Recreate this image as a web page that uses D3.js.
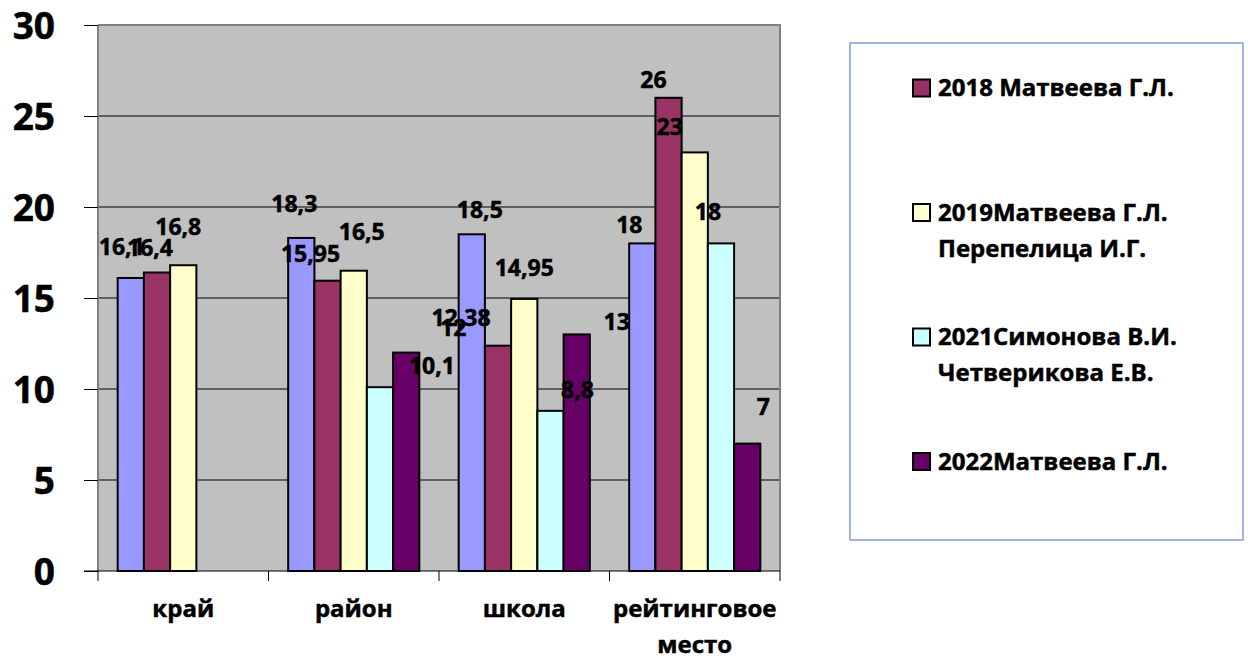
<!DOCTYPE html>
<html>
<head>
<meta charset="utf-8">
<script src="https://cdn.jsdelivr.net/npm/d3@7"></script>
<style>
  body { margin: 0; background: #fff; }
  svg text { font-family: "Open Sans", "DejaVu Sans", sans-serif; font-weight: bold; fill: #000; stroke: #000; stroke-width: 0.5px; }
</style>
</head>
<body>
<div id="chart"></div>
<script>
// data
const categories = ["край", "район", "школа", "рейтинговое место"];
const seriesKeys = ["s0", "s2018", "s2019", "s2021", "s2022"];
const seriesLabels = ["", "2018 Матвеева Г.Л.", "2019Матвеева Г.Л. Перепелица И.Г.", "2021Симонова В.И. Четверикова Е.В.", "2022Матвеева Г.Л."];
const values0 = [16.1, 18.3, 18.5, 18];
const values2018 = [16.4, 15.95, 12.38, 26];
const values2019 = [16.8, 16.5, 14.95, 23];
const values2021 = [null, 10.1, 8.8, 18];
const values2022 = [null, 12, 13, 7];
const yTicks = [0, 5, 10, 15, 20, 25, 30];

// legend text lines (the first series has no legend entry)
const legendLines = [
  null,
  ["2018 Матвеева Г.Л."],
  ["2019Матвеева Г.Л.", "Перепелица И.Г."],
  ["2021Симонова В.И.", "Четверикова Е.В."],
  ["2022Матвеева Г.Л."]
];

const colors = ["#9999FF", "#993366", "#FFFFCC", "#CCFFFF", "#660066"];

// label nudges relative to bar centre / bar top (Excel put them a bit everywhere)
const labelNudge = [
  [[-9, -31], [-7, -34], [8, -24], [-13, -18]],
  [[-7, -25], [-17, -27], [-37, -28], [-15, -18]],
  [[-5, -38], [8, -39], [0, -31], [-25, -25]],
  [null, [52, -21], [27, -21], [-13, -31]],
  [null, [47, -25], [40, -12], [16, -37]]
];

const allValues = [values0, values2018, values2019, values2021, values2022];

const margin = { top: 25, right: 468, bottom: 88, left: 98 };
const width = 1248 - margin.left - margin.right;
const height = 659 - margin.top - margin.bottom;

const svg = d3.select("#chart")
  .append("svg")
  .attr("width", 1248)
  .attr("height", 659);

const g = svg.append("g")
  .attr("transform", `translate(${margin.left},${margin.top})`);

const x = d3.scaleBand()
  .domain(categories)
  .range([0, width])
  .paddingInner(0)
  .paddingOuter(0);

const xs = d3.scaleBand()
  .domain(seriesKeys)
  .range([0, x.bandwidth()])
  .paddingInner(0)
  .paddingOuter(0.75);

const y = d3.scaleLinear()
  .domain([0, 30])
  .range([height, 0]);

// plot background
g.append("rect")
  .attr("width", width)
  .attr("height", height)
  .attr("fill", "#C0C0C0");

// grid lines
g.selectAll(".grid")
  .data(yTicks.filter(d => d > 0 && d < 30))
  .enter()
  .append("line")
  .attr("x1", 0)
  .attr("x2", width)
  .attr("y1", d => y(d))
  .attr("y2", d => y(d))
  .attr("stroke", "#000")
  .attr("stroke-width", 1);

// top and right frame
g.append("path")
  .attr("d", `M0,${y(30)}H${width}V${height}`)
  .attr("fill", "none")
  .attr("stroke", "#808080")
  .attr("stroke-width", 2);

// bars
const rows = [];
allValues.forEach((vals, si) => {
  vals.forEach((v, ci) => {
    if (v == null) return;
    rows.push({ si, ci, v, key: seriesKeys[si], cat: categories[ci] });
  });
});

g.selectAll(".bar")
  .data(rows)
  .enter()
  .append("rect")
  .attr("x", d => x(d.cat) + xs(d.key))
  .attr("y", d => y(d.v))
  .attr("width", xs.bandwidth())
  .attr("height", d => y(0) - y(d.v))
  .attr("fill", d => colors[d.si])
  .attr("stroke", "#000")
  .attr("stroke-width", 2);

// y axis
const yAxis = g.append("g")
  .call(d3.axisLeft(y).tickValues(yTicks).tickSize(14).tickPadding(29));
yAxis.select(".domain").attr("stroke", "#808080").attr("stroke-width", 2)
  .attr("d", `M0,${height}V0`);
yAxis.selectAll(".tick line").attr("stroke", "#000");
yAxis.selectAll(".tick text")
  .style("font-size", "37px")
  .attr("dy", "0.37em");

// bottom axis line and ticks at band edges
g.append("line")
  .attr("x1", -14)
  .attr("x2", width)
  .attr("y1", height)
  .attr("y2", height)
  .attr("stroke", "#000")
  .attr("stroke-width", 1);

const edges = categories.map(c => x(c)).concat([x.range()[1]]);
g.selectAll(".xtick")
  .data(edges)
  .enter()
  .append("line")
  .attr("x1", d => d)
  .attr("x2", d => d)
  .attr("y1", height)
  .attr("y2", height + 10)
  .attr("stroke", "#000");

// category labels
const catLabels = g.selectAll(".cat")
  .data(categories)
  .enter()
  .append("text")
  .attr("text-anchor", "middle")
  .style("font-size", "24px")
  .attr("transform", d => `translate(${x(d) + x.bandwidth() / 2},${height + 46})`);
catLabels.each(function(d) {
  const words = d.split(" ");
  d3.select(this).selectAll("tspan")
    .data(words)
    .enter()
    .append("tspan")
    .attr("x", 0)
    .attr("dy", (w, i) => i === 0 ? 0 : 36)
    .text(w => w);
});

// value labels
g.selectAll(".val")
  .data(rows)
  .enter()
  .append("text")
  .attr("text-anchor", "middle")
  .attr("dy", "0.35em")
  .style("font-size", "23px")
  .attr("x", d => x(d.cat) + xs(d.key) + xs.bandwidth() / 2 + labelNudge[d.si][d.ci][0])
  .attr("y", d => y(d.v) + labelNudge[d.si][d.ci][1])
  .text(d => String(d.v).replace(".", ","));

// legend
const legend = svg.append("g").attr("transform", "translate(850,43)");
legend.append("rect")
  .attr("width", 393)
  .attr("height", 497)
  .attr("fill", "#fff")
  .attr("stroke", "#7F9FD5")
  .attr("stroke-width", 1.5);

const legendItems = seriesKeys.map((k, i) => ({ i, lines: legendLines[i] })).filter(d => d.lines);

const li = legend.selectAll(".li")
  .data(legendItems)
  .enter()
  .append("g")
  .attr("transform", (d, j) => `translate(0,${45 + j * 124.5})`);

li.append("rect")
  .attr("x", 63)
  .attr("y", -8.5)
  .attr("width", 17)
  .attr("height", 17)
  .attr("fill", d => colors[d.i])
  .attr("stroke", "#000")
  .attr("stroke-width", 2);

li.append("text")
  .style("font-size", "24px")
  .each(function(d) {
    d3.select(this).selectAll("tspan")
      .data(d.lines)
      .enter()
      .append("tspan")
      .attr("x", 88)
      .attr("y", (t, k) => k * 36)
      .attr("dy", "0.35em")
      .text(t => t);
  });
</script>
</body>
</html>
